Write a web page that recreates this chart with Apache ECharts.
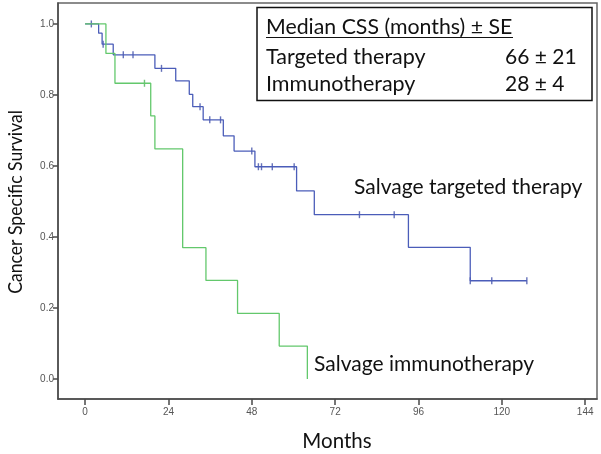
<!DOCTYPE html>
<html>
<head>
<meta charset="utf-8">
<script src="https://cdn.jsdelivr.net/npm/echarts@6/dist/echarts.min.js"></script>
<style>html,body{margin:0;padding:0;background:#fff}#c{width:601px;height:454px}</style>
</head>
<body>
<div id="c"></div>
<script>
// Salvage targeted therapy (Kaplan-Meier steps)
const tgtTime = [0, 3.9, 4.9, 8.1, 20.1, 26.1, 30.0, 31.0, 34.0, 39.8, 42.9, 48.9, 60.9, 66.0, 93.1, 110.9, 127.2];
const tgtSurv = [1.0, 0.974, 0.943, 0.913, 0.875, 0.840, 0.802, 0.767, 0.730, 0.685, 0.642, 0.598, 0.530, 0.463, 0.371, 0.277, 0.277];
const tgtCensor = [1.8, 5.2, 11.0, 13.8, 22.0, 33.1, 35.9, 39.0, 48.0, 49.9, 50.8, 53.9, 60.2, 79.0, 89.0, 110.9, 117.1, 127.2];
// Salvage immunotherapy
const immTime = [0, 6.0, 8.6, 18.9, 20.1, 28.1, 34.8, 43.9, 55.9, 64.0];
const immSurv = [1.0, 0.917, 0.833, 0.741, 0.648, 0.370, 0.278, 0.185, 0.093, 0.0];
const immCensor = [17.1];
// Axis ticks
const xTicks = [0, 24, 48, 72, 96, 120, 144];
const yTicks = [0, 0.2, 0.4, 0.6, 0.8, 1.0];

const BLUE = '#4b5db9', GREEN = '#63c86c';
function survAt(times, surv, t) {
  let v = surv[0];
  for (let i = 0; i < times.length; i++) if (times[i] <= t) v = surv[i];
  return v;
}
const zip = (a, b) => a.map((t, i) => [t, b[i]]);
const FONT = 'Lato';
const AX = '#4a4a4a';

const chart = echarts.init(document.getElementById('c'), null, {renderer: 'canvas'});
chart.setOption({
  animation: false,
  grid: {left: 58, top: 3, right: 4, bottom: 55, show: true, borderColor: '#666', borderWidth: 1.5},
  xAxis: {
    type: 'value', min: -7.8, max: 147.4,
    axisLine: {show: true, onZero: false, lineStyle: {color: AX, width: 1.5}},
    axisTick: {show: true, customValues: xTicks, length: 6, lineStyle: {color: AX, width: 1.5}},
    axisLabel: {customValues: xTicks, color: '#555', fontSize: 10, fontFamily: 'Liberation Sans', margin: 8},
    splitLine: {show: false}
  },
  yAxis: {
    type: 'value', min: -0.056, max: 1.059,
    axisLine: {show: true, onZero: false, lineStyle: {color: AX, width: 1.5}},
    axisTick: {show: true, customValues: yTicks, length: 5, lineStyle: {color: AX, width: 1.5}},
    axisLabel: {customValues: yTicks, color: '#555', fontSize: 10, fontFamily: 'Liberation Sans', margin: 4,
      formatter: v => v.toFixed(1)},
    splitLine: {show: false}
  },
  series: [
    {type: 'line', step: 'end', data: zip(tgtTime, tgtSurv), symbol: 'none',
      lineStyle: {color: BLUE, width: 1.3}},
    {type: 'line', step: 'end', data: zip(immTime, immSurv), symbol: 'none',
      lineStyle: {color: GREEN, width: 1.3}},
    {type: 'scatter', data: tgtCensor.map(t => [t, survAt(tgtTime, tgtSurv, t)]),
      symbol: 'rect', symbolSize: [1.4, 7], itemStyle: {color: '#3e4ea8'}},
    {type: 'scatter', data: immCensor.map(t => [t, survAt(immTime, immSurv, t)]),
      symbol: 'rect', symbolSize: [1.4, 7], itemStyle: {color: '#4fb259'}}
  ],
  graphic: [
    {type: 'text', x: 16, y: 202, rotation: Math.PI / 2, scaleX: 0.88,
      style: {text: 'Cancer Specific Survival', font: '20px ' + FONT, fill: '#111', align: 'center', verticalAlign: 'middle'}},
    {type: 'text', x: 337, y: 441,
      style: {text: 'Months', font: '20.5px ' + FONT, fill: '#111', align: 'center', verticalAlign: 'middle'}},
    {type: 'text', x: 354, y: 187,
      style: {text: 'Salvage targeted therapy', font: '21px ' + FONT, fill: '#111', align: 'left', verticalAlign: 'middle'}},
    {type: 'text', x: 314, y: 364,
      style: {text: 'Salvage immunotherapy', font: '21px ' + FONT, fill: '#111', align: 'left', verticalAlign: 'middle'}},
    {type: 'rect', shape: {x: 257, y: 7.5, width: 335, height: 93},
      style: {fill: '#fff', stroke: '#111', lineWidth: 1.5}},
    {type: 'text', x: 266, y: 27,
      style: {text: 'Median CSS (months) ± SE', font: '21.3px ' + FONT, fill: '#111', align: 'left', verticalAlign: 'middle'}},
    {type: 'line', shape: {x1: 266, y1: 37.5, x2: 513, y2: 37.5}, style: {stroke: '#111', lineWidth: 1.2}},
    {type: 'text', x: 266, y: 57,
      style: {text: 'Targeted therapy', font: '21.5px ' + FONT, fill: '#111', align: 'left', verticalAlign: 'middle'}},
    {type: 'text', x: 505, y: 57,
      style: {text: '66 ± 21', font: '21px ' + FONT, fill: '#111', align: 'left', verticalAlign: 'middle'}},
    {type: 'text', x: 266, y: 84,
      style: {text: 'Immunotherapy', font: '21.5px ' + FONT, fill: '#111', align: 'left', verticalAlign: 'middle'}},
    {type: 'text', x: 505, y: 84,
      style: {text: '28 ± 4', font: '21px ' + FONT, fill: '#111', align: 'left', verticalAlign: 'middle'}}
  ]
});
</script>
</body>
</html>
